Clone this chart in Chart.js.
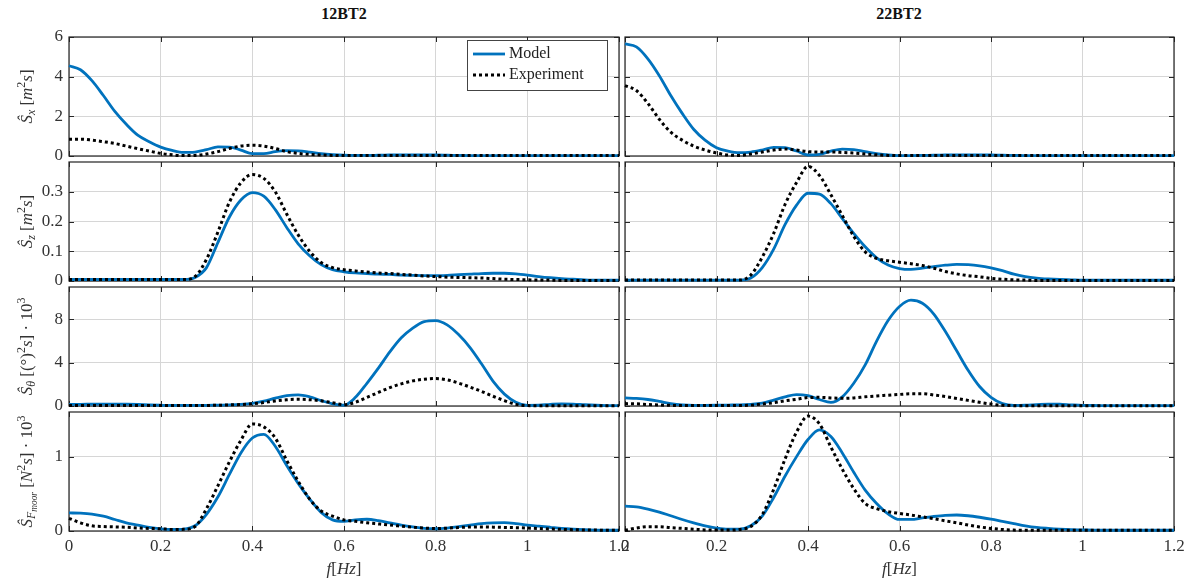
<!DOCTYPE html>
<html>
<head>
<meta charset="utf-8">
<script src="https://cdn.jsdelivr.net/npm/chart.js@4.4.1/dist/chart.umd.min.js"></script>
<style>
  body { margin: 0; background: #fff; width: 1190px; height: 583px; position: relative; overflow: hidden; font-family: 'Liberation Serif', serif; }
  canvas { position: absolute; }
  .ttl { position: absolute; top: 5px; font-weight: bold; font-size: 16px; transform: translateX(-50%); color: #111; }
</style>
</head>
<body>
<div class="ttl" style="left:344px">12BT2</div>
<div class="ttl" style="left:899px">22BT2</div>
<script>
// frequency samples [Hz]
var freq = [0, 0.025, 0.05, 0.075, 0.1, 0.125, 0.15, 0.175, 0.2, 0.225, 0.25, 0.275,
  0.3, 0.325, 0.35, 0.375, 0.4, 0.425, 0.45, 0.475, 0.5, 0.525, 0.55, 0.575,
  0.6, 0.625, 0.65, 0.675, 0.7, 0.725, 0.75, 0.775, 0.8, 0.825, 0.85, 0.875,
  0.9, 0.925, 0.95, 0.975, 1.0, 1.025, 1.05, 1.075, 1.1, 1.125, 1.15, 1.175, 1.2];
var xTicks = [0, 0.2, 0.4, 0.6, 0.8, 1, 1.2];

// surge spectrum
var sxModel12 = [4.55, 4.35, 3.8, 3.05, 2.25, 1.6, 1.05, 0.72, 0.45, 0.28, 0.18, 0.2,
  0.32, 0.46, 0.45, 0.3, 0.12, 0.12, 0.22, 0.27, 0.26, 0.2, 0.12, 0.07,
  0.04, 0.03, 0.03, 0.04, 0.05, 0.06, 0.06, 0.05, 0.05, 0.04, 0.03, 0.02,
  0.02, 0.02, 0.02, 0.02, 0.02, 0.02, 0.02, 0.02, 0.02, 0.02, 0.02, 0.02, 0.02];
var sxExp12 = [0.85, 0.85, 0.8, 0.72, 0.63, 0.5, 0.37, 0.25, 0.13, 0.06, 0.02, 0.03,
  0.1, 0.22, 0.38, 0.5, 0.54, 0.5, 0.38, 0.22, 0.13, 0.08, 0.05, 0.03,
  0.02, 0.02, 0.02, 0.02, 0.02, 0.02, 0.02, 0.02, 0.02, 0.02, 0.02, 0.02,
  0.02, 0.02, 0.02, 0.02, 0.02, 0.02, 0.02, 0.02, 0.02, 0.02, 0.02, 0.02, 0.02];
var sxModel22 = [5.65, 5.5, 4.9, 4.05, 3.05, 2.15, 1.35, 0.8, 0.42, 0.25, 0.17, 0.2,
  0.3, 0.43, 0.42, 0.25, 0.05, 0.08, 0.25, 0.35, 0.32, 0.22, 0.12, 0.05,
  0.02, 0.02, 0.03, 0.04, 0.05, 0.06, 0.06, 0.06, 0.05, 0.04, 0.03, 0.02,
  0.02, 0.02, 0.02, 0.02, 0.02, 0.02, 0.02, 0.02, 0.02, 0.02, 0.02, 0.02, 0.02];
var sxExp22 = [3.55, 3.3, 2.65, 1.85, 1.2, 0.8, 0.5, 0.3, 0.15, 0.05, 0.03, 0.1,
  0.2, 0.3, 0.35, 0.3, 0.22, 0.2, 0.2, 0.18, 0.15, 0.1, 0.06, 0.03,
  0.02, 0.02, 0.02, 0.02, 0.02, 0.02, 0.02, 0.02, 0.02, 0.02, 0.02, 0.02,
  0.02, 0.02, 0.02, 0.02, 0.02, 0.02, 0.02, 0.02, 0.02, 0.02, 0.02, 0.02, 0.02];

// heave spectrum
var szModel12 = [0.005, 0.005, 0.005, 0.005, 0.005, 0.005, 0.005, 0.005, 0.005, 0.005, 0.005, 0.012,
  0.045, 0.13, 0.215, 0.272, 0.297, 0.285, 0.24, 0.18, 0.125, 0.085, 0.055, 0.038,
  0.031, 0.027, 0.025, 0.023, 0.022, 0.02, 0.019, 0.018, 0.018, 0.019, 0.021, 0.023,
  0.025, 0.026, 0.026, 0.024, 0.02, 0.015, 0.011, 0.008, 0.006, 0.004, 0.003, 0.003, 0.003];
var szExp12 = [0.005, 0.005, 0.005, 0.005, 0.005, 0.005, 0.005, 0.005, 0.005, 0.005, 0.005, 0.015,
  0.073, 0.165, 0.265, 0.33, 0.358, 0.345, 0.3, 0.225, 0.155, 0.1, 0.062, 0.045,
  0.038, 0.034, 0.03, 0.027, 0.025, 0.022, 0.02, 0.017, 0.015, 0.013, 0.012, 0.011,
  0.01, 0.008, 0.006, 0.005, 0.004, 0.003, 0.003, 0.002, 0.002, 0.002, 0.002, 0.002, 0.002];
var szModel22 = [0.003, 0.003, 0.003, 0.003, 0.003, 0.003, 0.003, 0.003, 0.003, 0.003, 0.003, 0.01,
  0.045, 0.107, 0.19, 0.255, 0.295, 0.292, 0.26, 0.21, 0.16, 0.115, 0.078, 0.054,
  0.042, 0.039, 0.043, 0.048, 0.053, 0.056, 0.055, 0.051, 0.044, 0.035, 0.023, 0.015,
  0.01, 0.007, 0.005, 0.004, 0.003, 0.003, 0.003, 0.003, 0.003, 0.003, 0.003, 0.003, 0.003];
var szExp22 = [0.003, 0.003, 0.003, 0.003, 0.003, 0.003, 0.003, 0.003, 0.003, 0.003, 0.003, 0.02,
  0.08, 0.16, 0.258, 0.331, 0.385, 0.355, 0.29, 0.22, 0.15, 0.098, 0.076, 0.068,
  0.063, 0.058, 0.052, 0.043, 0.032, 0.024, 0.018, 0.014, 0.009, 0.006, 0.004, 0.003,
  0.002, 0.002, 0.002, 0.002, 0.002, 0.002, 0.002, 0.002, 0.002, 0.002, 0.002, 0.002, 0.002];

// pitch spectrum (x 10^3)
var sthModel12 = [0.15, 0.15, 0.17, 0.18, 0.18, 0.17, 0.14, 0.1, 0.07, 0.05, 0.05, 0.05,
  0.06, 0.08, 0.1, 0.15, 0.25, 0.45, 0.72, 0.95, 1.03, 0.85, 0.5, 0.2,
  0.07, 0.8, 2.1, 3.5, 5.0, 6.3, 7.2, 7.8, 7.9, 7.5, 6.6, 5.4,
  3.9, 2.3, 1.1, 0.35, 0.06, 0.07, 0.15, 0.2, 0.18, 0.12, 0.07, 0.04, 0.03];
var sthExp12 = [0.05, 0.05, 0.05, 0.05, 0.05, 0.05, 0.05, 0.05, 0.05, 0.05, 0.05, 0.05,
  0.05, 0.07, 0.1, 0.14, 0.2, 0.32, 0.47, 0.58, 0.62, 0.58, 0.48, 0.3,
  0.12, 0.35, 0.8, 1.25, 1.7, 2.05, 2.32, 2.48, 2.54, 2.42, 2.12, 1.75,
  1.35, 0.9, 0.5, 0.15, 0.04, 0.03, 0.03, 0.03, 0.03, 0.03, 0.03, 0.03, 0.03];
var sthModel22 = [0.75, 0.7, 0.6, 0.42, 0.22, 0.1, 0.06, 0.06, 0.07, 0.09, 0.1, 0.15,
  0.26, 0.55, 0.85, 1.05, 0.95, 0.6, 0.33, 0.85, 2.1, 3.8, 6.0, 7.9,
  9.2, 9.78, 9.5, 8.5, 6.9, 5.1, 3.3, 1.8, 0.8, 0.22, 0.05, 0.07,
  0.13, 0.18, 0.17, 0.11, 0.06, 0.05, 0.04, 0.03, 0.03, 0.03, 0.03, 0.03, 0.03];
var sthExp22 = [0.22, 0.2, 0.14, 0.09, 0.06, 0.05, 0.05, 0.05, 0.05, 0.05, 0.05, 0.08,
  0.18, 0.3, 0.48, 0.62, 0.78, 0.8, 0.75, 0.71, 0.75, 0.85, 0.93, 1.0,
  1.07, 1.13, 1.13, 1.02, 0.88, 0.7, 0.52, 0.34, 0.18, 0.06, 0.03, 0.02,
  0.02, 0.02, 0.02, 0.02, 0.02, 0.02, 0.02, 0.02, 0.02, 0.02, 0.02, 0.02, 0.02];

// mooring force spectrum (x 10^3)
var sfModel12 = [0.243, 0.24, 0.228, 0.2, 0.155, 0.11, 0.08, 0.05, 0.03, 0.02, 0.025, 0.07,
  0.225, 0.46, 0.76, 1.05, 1.25, 1.3, 1.14, 0.88, 0.64, 0.43, 0.25, 0.15,
  0.13, 0.15, 0.158, 0.14, 0.11, 0.08, 0.055, 0.035, 0.03, 0.04, 0.06, 0.08,
  0.1, 0.11, 0.112, 0.1, 0.08, 0.065, 0.05, 0.035, 0.025, 0.018, 0.013, 0.01, 0.01];
var sfExp12 = [0.17, 0.11, 0.07, 0.06, 0.055, 0.05, 0.04, 0.035, 0.03, 0.02, 0.022, 0.06,
  0.3, 0.61, 0.93, 1.22, 1.44, 1.4, 1.25, 0.95, 0.67, 0.43, 0.27, 0.2,
  0.15, 0.13, 0.11, 0.095, 0.08, 0.065, 0.05, 0.04, 0.032, 0.038, 0.047, 0.053,
  0.055, 0.052, 0.048, 0.045, 0.04, 0.033, 0.027, 0.022, 0.018, 0.014, 0.012, 0.01, 0.01];
var sfModel22 = [0.335, 0.325, 0.295, 0.255, 0.205, 0.155, 0.11, 0.07, 0.04, 0.024, 0.025, 0.07,
  0.2, 0.45, 0.74, 1.0, 1.23, 1.36, 1.27, 1.05, 0.79, 0.55, 0.37, 0.23,
  0.155, 0.155, 0.175, 0.195, 0.21, 0.215, 0.205, 0.185, 0.16, 0.13, 0.1, 0.07,
  0.048, 0.035, 0.025, 0.018, 0.015, 0.012, 0.01, 0.01, 0.01, 0.01, 0.01, 0.01, 0.01];
var sfExp22 = [0.01, 0.04, 0.058, 0.058, 0.045, 0.035, 0.025, 0.015, 0.012, 0.012, 0.02, 0.06,
  0.22, 0.56, 0.97, 1.33, 1.545, 1.44, 1.13, 0.83, 0.57, 0.37, 0.3, 0.26,
  0.236, 0.215, 0.19, 0.165, 0.137, 0.11, 0.08, 0.055, 0.035, 0.02, 0.012, 0.01,
  0.01, 0.01, 0.01, 0.01, 0.01, 0.01, 0.01, 0.01, 0.01, 0.01, 0.01, 0.01, 0.01];

var sxTicks = [0, 2, 4, 6];
var szTicks = [0, 0.1, 0.2, 0.3];
var sthTicks = [0, 4, 8];
var sfTicks = [0, 1];

// axis labels as [text, style] runs
var sxLabel = [['Ŝ', 'i'], ['x', 'sub'], [' [', ''], ['m', 'i'], ['2', 'sup'], ['s', 'i'], [']', '']];
var szLabel = [['Ŝ', 'i'], ['z', 'sub'], [' [', ''], ['m', 'i'], ['2', 'sup'], ['s', 'i'], [']', '']];
var sthLabel = [['Ŝ', 'i'], ['θ', 'sub'], [' [(°)', ''], ['2', 'sup'], ['s', 'i'], ['] · 10', ''], ['3', 'sup']];
var sfLabel = [['Ŝ', 'i'], ['F', 'sub'], ['moor', 'subsub'], [' [', ''], ['N', 'i'], ['2', 'sup'], ['s', 'i'], ['] · 10', ''], ['3', 'sup']];
var fLabel = [['f', 'i'], ['[', ''], ['Hz', 'i'], [']', '']];

var FONT = 'Liberation Serif';
var BLUE = '#0072BD';

function runFont(style, size) {
  var s = size, it = (style.indexOf('i') === 0 || style === 'sub' || style === 'subsub');
  if (style === 'sub' || style === 'sup') s = size * 0.7;
  if (style === 'subsub') s = size * 0.55;
  return (it ? 'italic ' : '') + s + 'px "' + FONT + '"';
}
function runDy(style, size) {
  if (style === 'sub') return size * 0.25;
  if (style === 'subsub') return size * 0.4;
  if (style === 'sup') return -size * 0.38;
  return 0;
}
function drawRich(ctx, runs, cx, cy, size, rotate) {
  ctx.save();
  ctx.translate(cx, cy);
  if (rotate) ctx.rotate(-Math.PI / 2);
  ctx.fillStyle = '#333';
  ctx.textBaseline = 'middle';
  ctx.textAlign = 'left';
  var total = 0;
  runs.forEach(function (r) { ctx.font = runFont(r[1], size); total += ctx.measureText(r[0]).width; });
  var x = -total / 2;
  runs.forEach(function (r) {
    ctx.font = runFont(r[1], size);
    ctx.fillText(r[0], x, runDy(r[1], size));
    x += ctx.measureText(r[0]).width;
  });
  ctx.restore();
}

var panels = [
  { m: sxModel12, e: sxExp12, max: 6, ticks: sxTicks, label: sxLabel, col: 0, row: 0 },
  { m: sxModel22, e: sxExp22, max: 6, ticks: sxTicks, label: sxLabel, col: 1, row: 0 },
  { m: szModel12, e: szExp12, max: 0.4, ticks: szTicks, label: szLabel, col: 0, row: 1 },
  { m: szModel22, e: szExp22, max: 0.4, ticks: szTicks, label: szLabel, col: 1, row: 1 },
  { m: sthModel12, e: sthExp12, max: 11, ticks: sthTicks, label: sthLabel, col: 0, row: 2 },
  { m: sthModel22, e: sthExp22, max: 11, ticks: sthTicks, label: sthLabel, col: 1, row: 2 },
  { m: sfModel12, e: sfExp12, max: 1.6, ticks: sfTicks, label: sfLabel, col: 0, row: 3 },
  { m: sfModel22, e: sfExp22, max: 1.6, ticks: sfTicks, label: sfLabel, col: 1, row: 3 }
];
var rowTop = [37, 162, 287, 412];
var plotH = 119;

panels.forEach(function (p, k) {
  var bottom = p.row === 3;
  var cv = document.createElement('canvas');
  var left = p.col === 0 ? 0 : 600;
  var w = p.col === 0 ? 640 : 590;
  var top = rowTop[p.row] - 10;
  var h = bottom ? 583 - top : plotH + 20;
  cv.width = w; cv.height = h;
  cv.style.left = left + 'px'; cv.style.top = top + 'px';
  document.body.appendChild(cv);

  var pts = function (arr) { return freq.map(function (f, i) { return { x: f, y: arr[i] }; }); };

  new Chart(cv, {
    type: 'line',
    data: {
      datasets: [
        { label: 'Model', data: pts(p.m), borderColor: BLUE, borderWidth: 2.8, pointRadius: 0,
          cubicInterpolationMode: 'monotone', order: 1, clip: false },
        { label: 'Experiment', data: pts(p.e), borderColor: '#000', borderWidth: 3, borderDash: [3, 3],
          pointRadius: 0, cubicInterpolationMode: 'monotone', order: 0, clip: false }
      ]
    },
    options: {
      responsive: false,
      animation: false,
      events: [],
      layout: { padding: { top: 10, bottom: bottom ? 0 : 10, left: 0, right: p.col === 0 ? 21 : 16 } },
      plugins: { legend: { display: false }, tooltip: { enabled: false } },
      scales: {
        x: {
          type: 'linear', min: 0, max: 1.2,
          afterBuildTicks: function (s) { s.ticks = xTicks.map(function (v) { return { value: v }; }); },
          ticks: { display: bottom, maxRotation: 0, padding: 5, color: '#333', font: { family: FONT, size: 17 },
            callback: function (v) { return String(+v.toFixed(2)); } },
          grid: { color: '#d6d6d6', drawTicks: false },
          border: { display: false },
          afterFit: function (s) { s.height = bottom ? 52 : 0; s.paddingLeft = 0; s.paddingRight = 0; }
        },
        y: {
          min: 0, max: p.max,
          afterBuildTicks: function (s) { s.ticks = p.ticks.map(function (v) { return { value: v }; }); },
          ticks: { display: p.col === 0, padding: 6, color: '#333', font: { family: FONT, size: 17 } },
          grid: { color: '#d6d6d6', drawTicks: false },
          border: { display: false },
          afterFit: function (s) { s.width = p.col === 0 ? 69 : 25; s.paddingTop = 0; s.paddingBottom = 0; }
        }
      }
    },
    plugins: [{
      id: 'frame',
      beforeDatasetsDraw: function (chart) {
        var a = chart.chartArea, ctx = chart.ctx;
        var xs = chart.scales.x, ys = chart.scales.y;
        ctx.save();
        ctx.strokeStyle = '#262626';
        ctx.lineWidth = 1;
        ctx.beginPath();
        // inward tick marks on all four sides
        xTicks.forEach(function (v) {
          var px = Math.round(xs.getPixelForValue(v)) + 0.5;
          ctx.moveTo(px, a.bottom); ctx.lineTo(px, a.bottom - 5);
          ctx.moveTo(px, a.top); ctx.lineTo(px, a.top + 5);
        });
        p.ticks.forEach(function (v) {
          var py = Math.round(ys.getPixelForValue(v)) + 0.5;
          ctx.moveTo(a.left, py); ctx.lineTo(a.left + 5, py);
          ctx.moveTo(a.right, py); ctx.lineTo(a.right - 5, py);
        });
        ctx.stroke();
        ctx.strokeStyle = '#222';
        ctx.lineWidth = 1.2;
        ctx.strokeRect(a.left, a.top, a.right - a.left, a.bottom - a.top);
        ctx.restore();
      },
      afterDraw: function (chart) {
        var a = chart.chartArea, ctx = chart.ctx;
        if (p.col === 0) drawRich(ctx, p.label, 28, (a.top + a.bottom) / 2, 17, true);
        if (bottom) drawRich(ctx, fLabel, (a.left + a.right) / 2, 570 - top, 17, false);
        if (k === 0) {
          var bx = a.right - 152, by = a.top + 3, bw = 140, bh = 50;
          ctx.save();
          ctx.fillStyle = '#fff';
          ctx.fillRect(bx, by, bw, bh);
          ctx.strokeStyle = '#444';
          ctx.lineWidth = 1;
          ctx.strokeRect(bx + 0.5, by + 0.5, bw, bh);
          chart.data.datasets.forEach(function (d, i) {
            var yy = by + 14 + i * 21;
            ctx.beginPath();
            ctx.strokeStyle = d.borderColor;
            ctx.lineWidth = d.borderWidth;
            ctx.setLineDash(d.borderDash || []);
            ctx.moveTo(bx + 6, yy);
            ctx.lineTo(bx + 38, yy);
            ctx.stroke();
            ctx.setLineDash([]);
            ctx.fillStyle = '#222';
            ctx.font = '16px "' + FONT + '"';
            ctx.textBaseline = 'middle';
            ctx.fillText(d.label, bx + 42, yy);
          });
          ctx.restore();
        }
      }
    }]
  });
});
</script>
</body>
</html>
